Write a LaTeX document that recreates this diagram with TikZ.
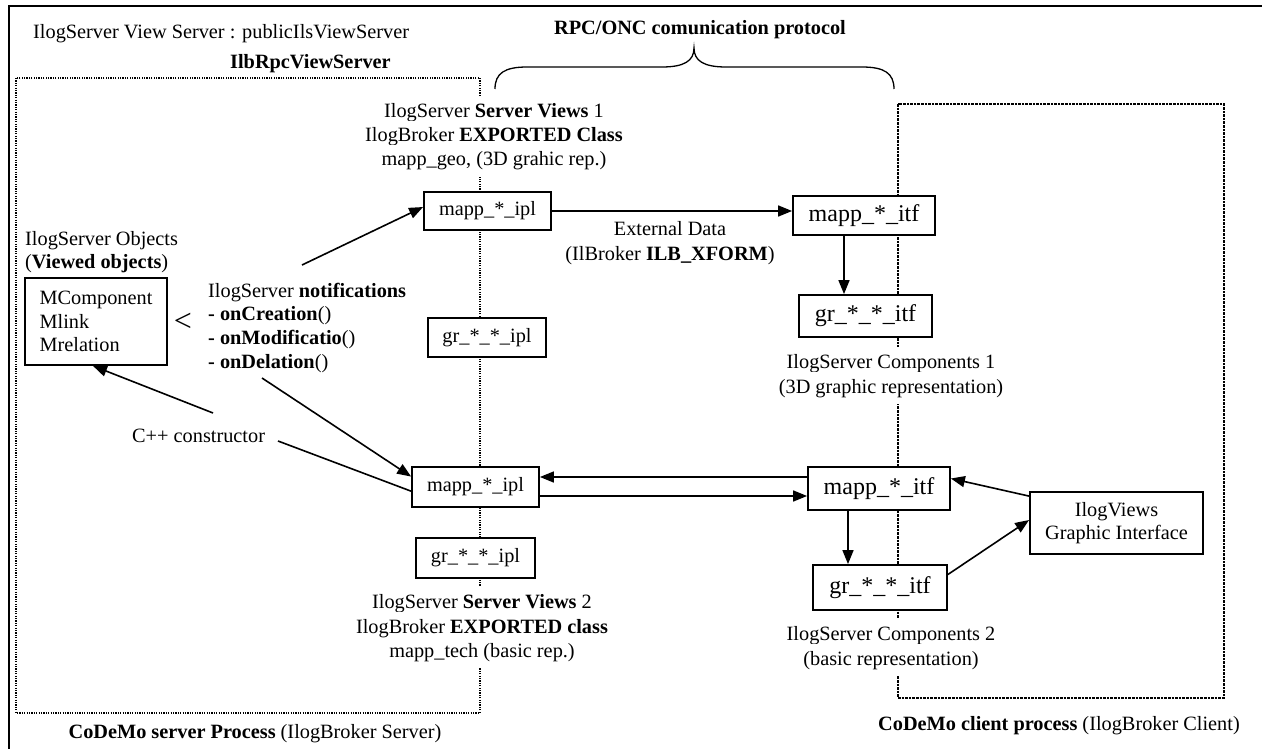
\documentclass[tikz,border=0pt]{standalone}
\usepackage{fontspec}
\setmainfont{Liberation Serif}
\usetikzlibrary{arrows.meta,calc}
\begin{document}
\begin{tikzpicture}[x=1pt,y=-1pt,
  every node/.style={font=\fontsize{20.3}{23.5}\selectfont, inner sep=0pt},
  box/.style={draw, line width=1.8pt, fill=white, inner sep=0pt, align=center},
  itf/.style={box, font=\fontsize{24}{28}\selectfont},
  lbl/.style={fill=white, inner xsep=2pt, inner ysep=7pt, anchor=base},
  txt/.style={anchor=base west},
  arr/.style={line width=1.6pt, -{Triangle[length=14pt,width=11pt]}},
  ln/.style={line width=1.6pt},
  srvdot/.style={line width=1.2pt, dash pattern=on 1.2pt off 1.2pt},
  clidot/.style={line width=2.6pt, dash pattern=on 2.6pt off 1pt},
]
\useasboundingbox (0,0) rectangle (1262,749);
% outer frame (top and left edges)
\draw[line width=2.5pt] (9,749) -- (9,6) -- (1262,6);
% process frames
\draw[srvdot] (16,78) rectangle (480,713);
\draw[clidot] (898,104) rectangle (1224,698);
% brace
\draw[line width=1.3pt] (495,89) .. controls (495,73) and (505,67) .. (527,67) -- (662,67)
  .. controls (684,67) and (694,61) .. (694,48)
  .. controls (694,61) and (704,67) .. (726,67) -- (862,67)
  .. controls (884,67) and (894,73) .. (894,89);
\node[anchor=base] (rpc) at (700,35) {\textbf{RPC/ONC comunication protocol}};
% title
\node[txt] (t1) at (33,39) {IlogServer View Server : publicIlsViewServer};
\node[txt] (t2) at (230,69) {\textbf{IlbRpcViewServer}};
% server views 1 label
\node[lbl] (sv1a) at (494,118) {IlogServer \textbf{Server Views} 1};
\node[lbl] (sv1b) at (494,142) {IlogBroker \textbf{EXPORTED Class}};
\node[lbl] (sv1c) at (494,166) {mapp\_geo, (3D grahic rep.)};
% objects
\node[txt] (obj1) at (25,245) {IlogServer Objects};
\node[txt] (obj2) at (25,268) {(\textbf{Viewed objects})};
\node[box, minimum width=142pt, minimum height=87pt, align=left] (mc) at (96,321.5) {MComponent\\Mlink\\Mrelation};
\node (lt) at (183,322) {\fontsize{32}{32}\selectfont <};
% notifications
\node[txt] (nt1) at (208,297) {IlogServer \textbf{notifications}};
\node[txt] (nt2) at (208,320) {\textbf{- onCreation}()};
\node[txt] (nt3) at (208,344) {\textbf{- onModificatio}()};
\node[txt] (nt4) at (208,368) {\textbf{- onDelation}()};
\node[txt] (cpp) at (132,442) {C++ constructor};
% server boxes
\node[box, minimum width=127pt, minimum height=38pt] (mA) at (487.5,211) {mapp\_*\_ipl};
\node[box, minimum width=118pt, minimum height=39pt] (gA) at (487,337.5) {gr\_*\_*\_ipl};
\node[box, minimum width=127pt, minimum height=40pt] (mB) at (475.5,487) {mapp\_*\_ipl};
\node[box, minimum width=119pt, minimum height=40pt] (gB) at (475.5,558) {gr\_*\_*\_ipl};
% server views 2 label
\node[lbl] (sv2a) at (482,608) {IlogServer \textbf{Server Views} 2};
\node[lbl] (sv2b) at (482,633) {IlogBroker \textbf{EXPORTED class}};
\node[lbl] (sv2c) at (482,657) {mapp\_tech (basic rep.)};
% client boxes
\node[itf, minimum width=142pt, minimum height=39pt] (iA) at (864,215.5) {mapp\_*\_itf};
\node[itf, minimum width=133pt, minimum height=42pt] (giA) at (865.5,316) {gr\_*\_*\_itf};
\node[itf, minimum width=142pt, minimum height=43pt] (iB) at (879,488.5) {mapp\_*\_itf};
\node[itf, minimum width=134pt, minimum height=45pt] (giB) at (880,587.5) {gr\_*\_*\_itf};
\node[box, minimum width=173pt, minimum height=62pt] (gui) at (1116.5,523) {IlogViews\\Graphic Interface};
% labels
\node[anchor=base] (ext1) at (670,235) {External Data};
\node[anchor=base] (ext2) at (670,260) {(IlBroker \textbf{ILB\_XFORM})};
\node[lbl] (c1a) at (891,368) {IlogServer Components 1};
\node[lbl] (c1b) at (891,393) {(3D graphic representation)};
\node[lbl] (c2a) at (891,640) {IlogServer Components 2};
\node[lbl] (c2b) at (891,665) {(basic representation)};
\node[anchor=base] (srv) at (255,738) {\textbf{CoDeMo server Process} (IlogBroker Server)};
\node[anchor=base] (cli) at (1059,730) {\textbf{CoDeMo client process} (IlogBroker Client)};
% connectors
\coordinate (n1) at (302,265);
\coordinate (n2) at (262,378);
\coordinate (c1) at (213,413);
\coordinate (c2) at (278,441);
\draw[arr] (n1) -- ($(mA.north west)!0.4!(mA.south west)$);
\draw[arr] (n2) -- ($(mB.north west)!0.25!(mB.south west)$);
\draw[arr] (c1) -- ([xshift=-3pt]mc.south);
\draw[ln] (c2) -- ($(mB.north west)!0.6!(mB.south west)$);
\draw[arr] (mA.east) -- (mA.east -| iA.west);
\draw[arr] ([xshift=-20pt]iA.south) -- ([xshift=-20pt]iA.south |- giA.north);
\draw[arr] ([yshift=11.5pt]iB.west) -- ([yshift=11.5pt]iB.west -| mB.east);
\draw[arr] ([yshift=-9pt]mB.east) -- ([yshift=-9pt]mB.east -| iB.west);
\draw[arr] ([xshift=-31pt]iB.south) -- ([xshift=-31pt]iB.south |- giB.north);
\draw[arr] ([yshift=-5pt]gui.north west) -- ([yshift=10pt]iB.east);
\draw[arr] ([yshift=13pt]giB.east) -- ([yshift=3pt]gui.west);
\end{tikzpicture}
\end{document}
